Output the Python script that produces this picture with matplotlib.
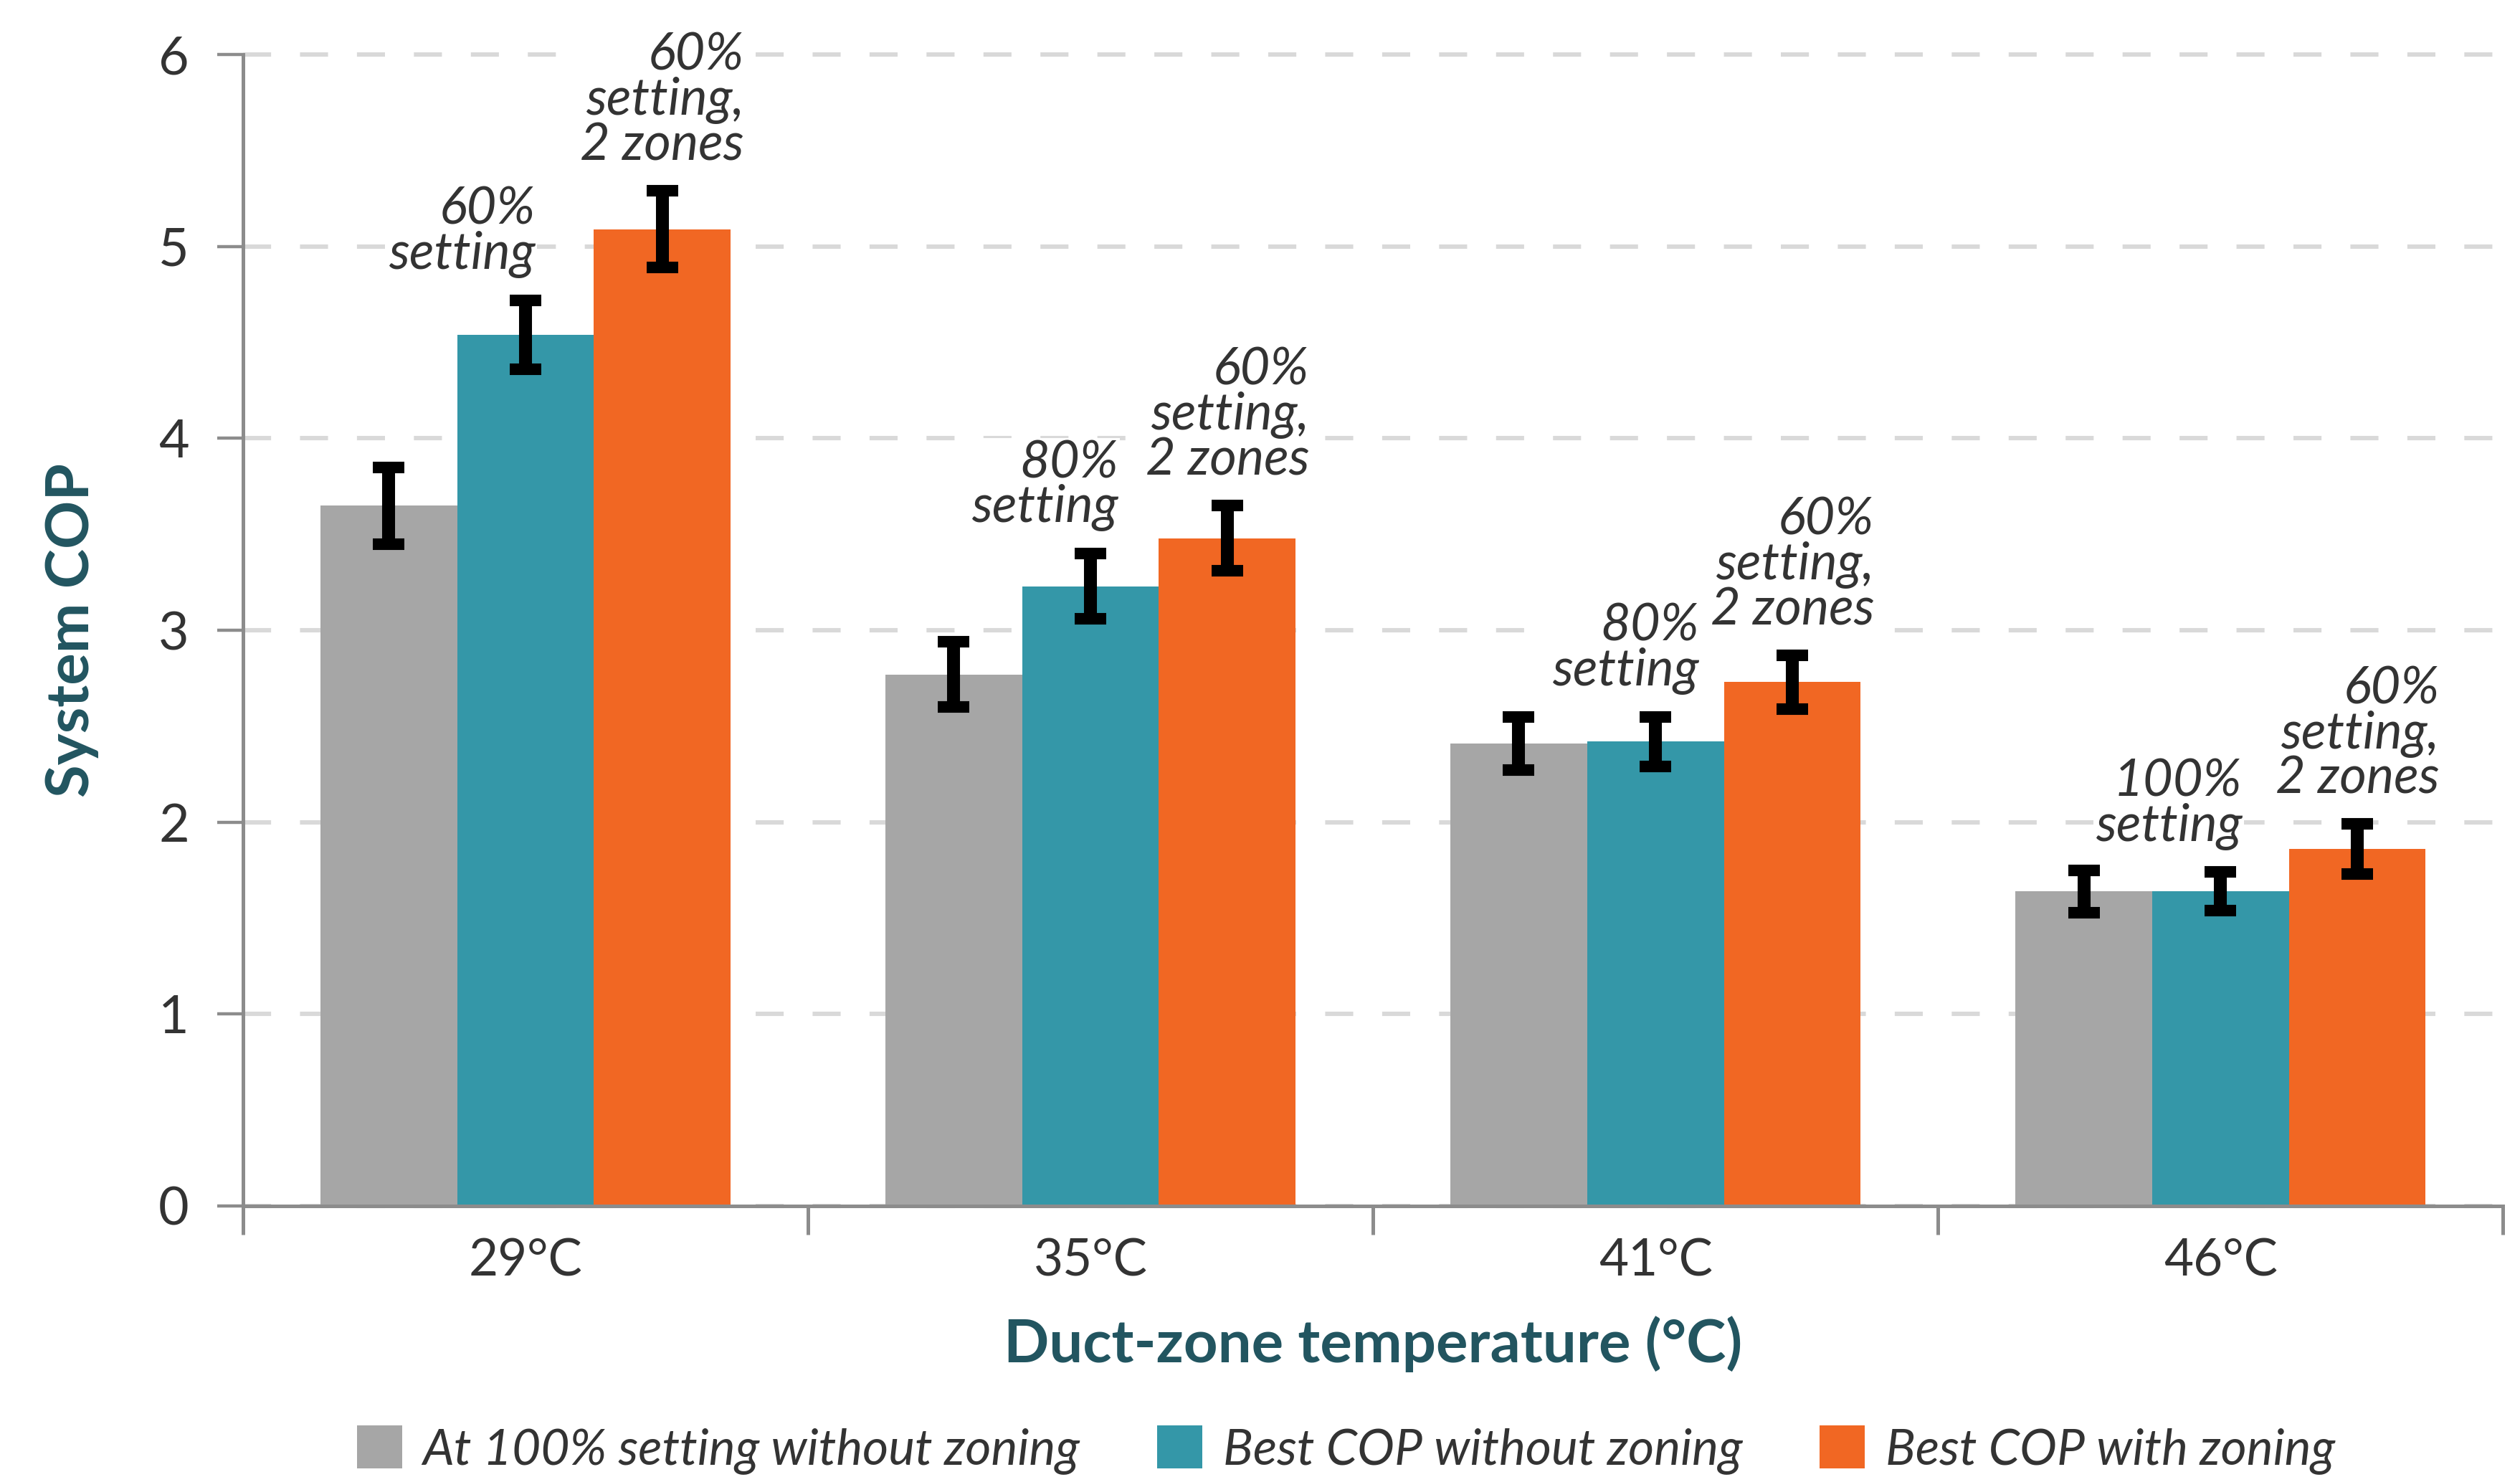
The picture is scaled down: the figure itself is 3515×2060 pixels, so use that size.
import numpy as np
import matplotlib.pyplot as plt
from matplotlib.patches import Patch

# ---- data ----
temps = ['29°C', '35°C', '41°C', '46°C']
series = ['At 100% setting without zoning', 'Best COP without zoning', 'Best COP with zoning']
cop_100 = [3.65, 2.77, 2.41, 1.64]
cop_best = [4.54, 3.23, 2.42, 1.64]
cop_zoned = [5.09, 3.48, 2.73, 1.86]
err_100 = [0.20, 0.17, 0.14, 0.11]
err_best = [0.18, 0.17, 0.13, 0.10]
err_zoned = [0.20, 0.17, 0.14, 0.13]
notes_best = ['60%\nsetting', '80%\nsetting', '80%\nsetting', '100%\nsetting']
notes_zoned = ['60%\nsetting,\n2 zones'] * 4

colors = ['#A6A6A6', '#3497A8', '#F16723']
txt = '#333333'
lab = '#225560'
axc = '#8C8C8C'
font = 'Lato'

plt.rcParams['font.family'] = font

fig = plt.figure(figsize=(17.58, 10.30), dpi=200)
ax = fig.add_axes([0.0964, 0.1835, 0.8966, 0.7795])

x = np.arange(len(temps))
w = 0.242
vals = [cop_100, cop_best, cop_zoned]
errs = [err_100, err_best, err_zoned]
for i, (v, e, c) in enumerate(zip(vals, errs, colors)):
    xp = x + (i - 1) * w
    ax.bar(xp, v, width=w, color=c, linewidth=0, zorder=2)
    ax.errorbar(xp, v, yerr=e, fmt='none', ecolor='black', elinewidth=6.5,
                capsize=8, capthick=5.8, zorder=3)

# annotations above the error bars
best_dx = [-32, -23, -15, -26]
for i in range(len(temps)):
    top = cop_best[i] + err_best[i]
    ax.annotate(notes_best[i], (x[i], top), xytext=(best_dx[i], 11), textcoords='offset points',
                ha='center', va='bottom', multialignment='right', style='italic',
                fontsize=26, color=txt, linespacing=0.95, zorder=4,
                bbox=dict(facecolor='white', edgecolor='none', pad=1))
    top = cop_zoned[i] + err_zoned[i]
    ax.annotate(notes_zoned[i], (x[i] + w, top), xytext=(0, 11), textcoords='offset points',
                ha='center', va='bottom', multialignment='right', style='italic',
                fontsize=26, color=txt, linespacing=0.95, zorder=4,
                bbox=dict(facecolor='white', edgecolor='none', pad=1))

ax.set_xlim(-0.5, 3.5)
ax.set_ylim(0, 6)
ax.set_yticks(range(0, 7))
ax.set_xticks(x)
ax.set_xticklabels(temps)
ax.set_xticks(np.arange(-0.5, 4, 1), minor=True)
ax.tick_params(axis='x', which='major', length=0, pad=16, labelsize=25.5, labelcolor=txt)
ax.tick_params(axis='x', which='minor', length=14.4, width=1.8, color=axc)
ax.tick_params(axis='y', length=13, width=1.6, color=axc, pad=14, labelsize=26.5, labelcolor=txt)

for s in ['top', 'right']:
    ax.spines[s].set_visible(False)
for s in ['left', 'bottom']:
    ax.spines[s].set_color(axc)
    ax.spines[s].set_linewidth(1.8)

ax.yaxis.grid(True, color='#D9D9D9', lw=2.2, dashes=(6.4, 6.6))
ax.set_axisbelow(True)
for gl in ax.get_ygridlines():
    gl.set_clip_on(False)

ax.set_xlabel('Duct-zone temperature (°C)', fontsize=30, fontweight='bold', color=lab)
ax.xaxis.set_label_coords(0.5, -0.12)
ax.xaxis.label.set_va('center')
ax.set_ylabel('System COP', fontsize=30, fontweight='bold', color=lab)
ax.yaxis.set_label_coords(-0.0755, 0.5)
ax.yaxis.label.set_va('center')

handles = [Patch(facecolor=c, edgecolor='none') for c in colors]
fig.legend(handles, series, loc='center', bbox_to_anchor=(0.534, 0.0184), ncol=3,
           frameon=False, handlelength=0.9, handleheight=0.95, handletextpad=0.42,
           columnspacing=1.55, labelcolor=txt,
           prop=dict(family=font, style='italic', size=25))

plt.savefig('out.png', dpi=200)
